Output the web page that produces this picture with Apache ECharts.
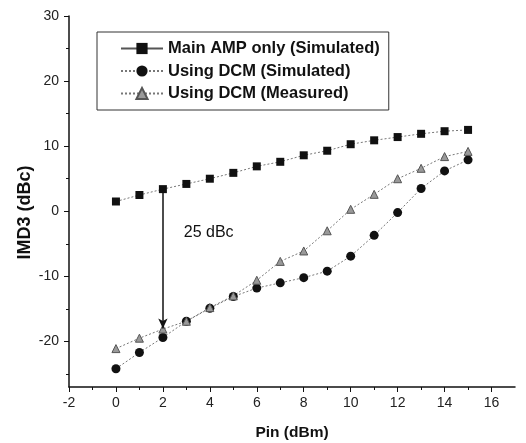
<!DOCTYPE html>
<html>
<head>
<meta charset="utf-8">
<script src="https://cdn.jsdelivr.net/npm/echarts@6/dist/echarts.min.js"></script>
<style>
  html, body { margin: 0; padding: 0; background: #fff; }
  #chart { width: 526px; height: 443px; }
</style>
</head>
<body>
<div id="chart"></div>
<script>
// Pin (dBm)
var pin = [0, 1, 2, 3, 4, 5, 6, 7, 8, 9, 10, 11, 12, 13, 14, 15];
// IMD3 (dBc)
var mainAmp = [1.5, 2.5, 3.4, 4.2, 5.0, 5.9, 6.9, 7.6, 8.6, 9.3, 10.3, 10.9, 11.4, 11.9, 12.3, 12.5];
var dcmSim = [-24.2, -21.7, -19.4, -16.9, -14.9, -13.1, -11.8, -11.0, -10.2, -9.2, -6.9, -3.7, -0.2, 3.5, 6.2, 7.9];
var dcmMeas = [-21.1, -19.5, -18.1, -16.9, -14.8, -13.0, -10.6, -7.7, -6.1, -3.0, 0.3, 2.6, 5.0, 6.6, 8.4, 9.2];

var xMajor = [-2, 0, 2, 4, 6, 8, 10, 12, 14, 16];
var xMinor = [-1, 1, 3, 5, 7, 9, 11, 13, 15];
var yMajor = [-20, -10, 0, 10, 20, 30];
var yMinor = [-25, -15, -5, 5, 15, 25];

// arrow showing the 25 dBc gap at Pin = 2
var arrowX = 2;
var arrowTo = -18;
var gapText = '25 dBc';
var gapLabelAt = [3.95, -3.3];

var names = ['Main AMP only (Simulated)', 'Using DCM (Simulated)', 'Using DCM (Measured)'];

function pairs(ys) {
  return pin.map(function (x, i) { return [x, ys[i]]; });
}

var chart = echarts.init(document.getElementById('chart'));

var fam = 'Liberation Sans, Arial, sans-serif';
var axisFont = { fontFamily: fam, fontSize: 14, color: '#222' };
var lineGray = { color: '#777', width: 1, type: [2, 2] };

var option = {
  animation: false,
  grid: { left: 69, right: 11, top: 16, bottom: 56, outerBoundsMode: 'none' },
  legend: {
    orient: 'vertical',
    left: 97,
    top: 32,
    padding: [8, 9, 8, 23],
    itemWidth: 42,
    itemHeight: 14,
    itemGap: 5.5,
    borderColor: '#333',
    borderWidth: 1,
    textStyle: { fontFamily: fam, fontSize: 16.5, fontWeight: 'bold', color: '#111' },
    data: [
      { name: names[0], lineStyle: { type: 'solid', color: '#555' } },
      { name: names[1] },
      { name: names[2] }
    ]
  },
  xAxis: [{
    type: 'value',
    min: -2,
    max: 17,
    name: 'Pin (dBm)',
    nameLocation: 'middle',
    nameGap: 38,
    nameTextStyle: { fontFamily: fam, fontSize: 15.5, fontWeight: 'bold', color: '#111' },
    axisLine: { onZero: false, lineStyle: { color: '#111', width: 1.5 } },
    axisTick: { inside: false, length: 5, customValues: xMajor, lineStyle: { color: '#111' } },
    axisLabel: Object.assign({ margin: 9, customValues: xMajor }, axisFont),
    splitLine: { show: false }
  }, {
    type: 'value',
    position: 'bottom',
    min: -2,
    max: 17,
    axisLine: { show: false, onZero: false },
    axisTick: { inside: false, length: 3, customValues: xMinor, lineStyle: { color: '#111' } },
    axisLabel: { show: false },
    splitLine: { show: false }
  }],
  yAxis: [{
    type: 'value',
    min: -27,
    max: 30,
    name: 'IMD3 (dBc)',
    nameLocation: 'middle',
    nameGap: 35,
    nameMoveOverlap: false,
    nameTextStyle: { fontFamily: fam, fontSize: 18, fontWeight: 'bold', color: '#111', padding: [0, 22, 0, 0] },
    axisLine: { show: true, onZero: false, lineStyle: { color: '#111', width: 1.5 } },
    axisTick: { show: true, inside: false, length: 5, customValues: yMajor, lineStyle: { color: '#111' } },
    axisLabel: Object.assign({ margin: 10, customValues: yMajor }, axisFont),
    splitLine: { show: false }
  }, {
    type: 'value',
    position: 'left',
    min: -27,
    max: 30,
    axisLine: { show: false, onZero: false },
    axisTick: { show: true, inside: false, length: 3, customValues: yMinor, lineStyle: { color: '#111' } },
    axisLabel: { show: false },
    splitLine: { show: false }
  }],
  series: [
    {
      name: names[0],
      type: 'line',
      data: pairs(mainAmp),
      symbol: 'rect',
      symbolSize: 8,
      itemStyle: { color: '#111' },
      lineStyle: lineGray,
      z: 3,
      markLine: {
        silent: true,
        symbol: ['none', 'arrow'],
        symbolSize: [7, 10],
        lineStyle: { color: '#111', width: 1.5, type: 'solid' },
        label: { show: false },
        data: [[{ coord: [arrowX, mainAmp[pin.indexOf(arrowX)]] }, { coord: [arrowX, arrowTo] }]]
      },
      markPoint: {
        silent: true,
        symbolSize: 0,
        label: {
          show: true,
          formatter: gapText,
          fontFamily: fam,
          fontSize: 16,
          color: '#111'
        },
        data: [{ coord: gapLabelAt }]
      }
    },
    {
      name: names[1],
      type: 'line',
      data: pairs(dcmSim),
      symbol: 'circle',
      symbolSize: 9,
      itemStyle: { color: '#111' },
      lineStyle: lineGray,
      z: 2
    },
    {
      name: names[2],
      type: 'line',
      data: pairs(dcmMeas),
      symbol: 'triangle',
      symbolSize: 8,
      itemStyle: { color: '#999', borderColor: '#555', borderWidth: 1 },
      lineStyle: lineGray,
      z: 2
    }
  ]
};

chart.setOption(option);
</script>
</body>
</html>
